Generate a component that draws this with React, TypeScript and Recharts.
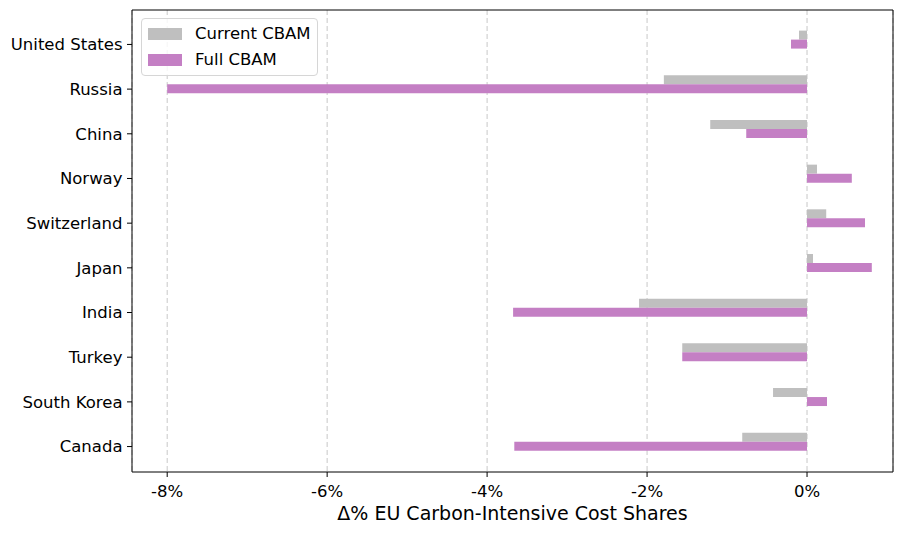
import { BarChart, Bar, XAxis, YAxis, CartesianGrid, Legend } from 'recharts';

// values (percent change)
const countries = [
  'United States', 'Russia', 'China', 'Norway', 'Switzerland',
  'Japan', 'India', 'Turkey', 'South Korea', 'Canada',
];
const currentCbam = [-0.1, -1.79, -1.21, 0.125, 0.24, 0.075, -2.1, -1.56, -0.425, -0.81];
const fullCbam = [-0.2, -8.0, -0.76, 0.56, 0.725, 0.81, -3.675, -1.56, 0.25, -3.66];
const xTicks = [-8, -6, -4, -2, 0];
const X_MIN = -8.44;
const X_MAX = 1.075;

const GREY = '#bfbfbf';
const ORCHID = '#c47fc4';
const FONT = '"DejaVu Sans", sans-serif';

const data = countries.map((name, i) => ({
  name,
  current: currentCbam[i],
  full: fullCbam[i],
}));

// matplotlib put the tick on the lower bar, so push labels down a little
const CountryTick = ({ x, y, payload }: any) => (
  <g>
    <line x1={x + 4.5} x2={x + 9.5} y1={y + 4.5} y2={y + 4.5} stroke="#000" strokeWidth={1} />
    <text
      x={x}
      y={y + 4.5}
      dy="0.35em"
      textAnchor="end"
      fill="#000"
      style={{ fontFamily: FONT, fontSize: 16.5 }}
    >
      {payload.value}
    </text>
  </g>
);

const LegendBox = ({ payload }: any) => (
  <div
    style={{
      border: '1px solid #d6d6d6',
      borderRadius: 4,
      background: 'rgba(255,255,255,0.8)',
      padding: '2px 6px 2px 6px',
      fontFamily: FONT,
      fontSize: 16.5,
      lineHeight: '26px',
    }}
  >
    {(payload || []).map((p: any) => (
      <div key={p.value} style={{ display: 'flex', alignItems: 'center' }}>
        <span style={{ display: 'inline-block', width: 34, height: 12, background: p.color, marginRight: 13 }} />
        <span style={{ color: '#000' }}>{p.value}</span>
      </div>
    ))}
  </div>
);

export default function App() {
  return (
    <div style={{ position: 'absolute', left: 0, top: 0, background: '#fff' }}>
      <BarChart
        width={917}
        height={534}
        data={data}
        layout="vertical"
        barGap={0}
        margin={{ top: 9, right: 23, bottom: 0, left: 0 }}
      >
        <CartesianGrid horizontal={false} stroke="#c8c8c8" strokeDasharray="5 3" />
        <XAxis
          type="number"
          domain={[X_MIN, X_MAX]}
          allowDataOverflow
          ticks={xTicks}
          tickFormatter={(v) => `${v}%`}
          height={62}
          tickSize={5}
          tickMargin={8}
          stroke="#000"
          tick={{ fill: '#000', fontSize: 16.5, fontFamily: FONT }}
          label={{
            value: 'Δ% EU Carbon-Intensive Cost Shares',
            position: 'insideBottom',
            offset: 14,
            fill: '#000',
            fontSize: 19,
            fontFamily: FONT,
          }}
        />
        {/* top and right spines */}
        <XAxis
          xAxisId="top"
          orientation="top"
          type="number"
          domain={[X_MIN, X_MAX]}
          allowDataOverflow
          ticks={xTicks}
          height={1}
          tick={false}
          tickLine={false}
          stroke="#000"
        />
        <YAxis
          type="category"
          dataKey="name"
          width={132}
          tickSize={5}
          tickMargin={4.5}
          tickLine={false}
          stroke="#000"
          padding={{ top: 7.6, bottom: 7.6 }}
          tick={<CountryTick />}
          interval={0}
        />
        <YAxis
          yAxisId="right"
          orientation="right"
          type="category"
          dataKey="name"
          width={1}
          tick={false}
          tickLine={false}
          stroke="#000"
        />
        <Legend
          layout="horizontal"
          verticalAlign="middle"
          align="center"
          content={<LegendBox />}
          wrapperStyle={{ left: 141, top: 18, width: 'auto', height: 'auto' }}
        />
        <Bar dataKey="current" name="Current CBAM" fill={GREY} barSize={9} isAnimationActive={false} />
        <Bar dataKey="full" name="Full CBAM" fill={ORCHID} barSize={9} isAnimationActive={false} />
      </BarChart>
    </div>
  );
}
